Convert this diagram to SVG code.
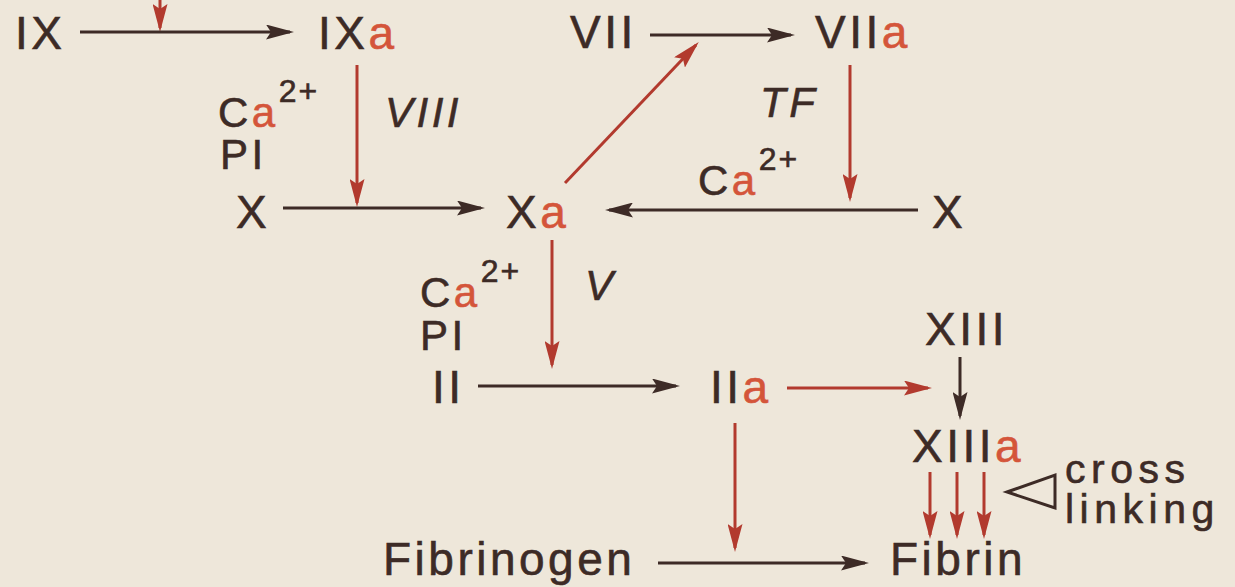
<svg xmlns="http://www.w3.org/2000/svg" width="1235" height="587" viewBox="0 0 1235 587">
<defs>
<style>
text{font-family:"Liberation Sans",Arial,sans-serif;fill:#3d2b26;stroke:#3d2b26;stroke-width:0.6;letter-spacing:3.5px}
.n{font-size:46px}
.l{font-size:42px}
.c{font-size:41px;letter-spacing:5.5px}
.i{font-style:italic}
.a{fill:#d4553a;stroke:#d4553a}
.s{font-size:32px;letter-spacing:2px}
.dk{stroke:#3d2b26;stroke-width:3;fill:none;marker-end:url(#hd)}
.rd{stroke:#b23a2e;stroke-width:3;fill:none;marker-end:url(#hr)}
</style>
<marker id="hd" viewBox="0 0 28 15" refX="24" refY="7.5" markerWidth="28" markerHeight="15" markerUnits="userSpaceOnUse" orient="auto">
<path d="M0,0 L28,7.5 L0,15 L5,7.5 Z" fill="#3d2b26"/>
</marker>
<marker id="hr" viewBox="0 0 28 15" refX="24" refY="7.5" markerWidth="28" markerHeight="15" markerUnits="userSpaceOnUse" orient="auto">
<path d="M0,0 L28,7.5 L0,15 L5,7.5 Z" fill="#b23a2e"/>
</marker>
</defs>
<rect width="1235" height="587" fill="#eee7da"/>
<g id="connectors">
<line class="rd" x1="160" y1="0" x2="160" y2="28"/>
<line class="dk" x1="80" y1="32" x2="290" y2="32"/>
<line class="rd" x1="357" y1="65" x2="357" y2="203"/>
<line class="dk" x1="283" y1="208" x2="481" y2="208"/>
<line class="dk" x1="650" y1="35" x2="791" y2="35"/>
<line class="rd" x1="565" y1="183" x2="696" y2="45"/>
<line class="rd" x1="850" y1="65" x2="850" y2="198"/>
<line class="dk" x1="918" y1="210" x2="609" y2="210"/>
<line class="rd" x1="552" y1="240" x2="552" y2="365"/>
<line class="dk" x1="478" y1="386" x2="676" y2="386"/>
<line class="rd" x1="787" y1="388" x2="928" y2="388"/>
<line class="dk" x1="960" y1="357" x2="960" y2="416"/>
<line class="rd" x1="735" y1="423" x2="735" y2="548"/>
<line class="dk" x1="658" y1="563" x2="865" y2="563"/>
<line class="rd" x1="930" y1="472" x2="930" y2="535"/>
<line class="rd" x1="957" y1="472" x2="957" y2="535"/>
<line class="rd" x1="984" y1="472" x2="984" y2="535"/>
<path d="M1007,492 L1055,475 L1055,508 Z" fill="none" stroke="#3d2b26" stroke-width="3" stroke-linejoin="miter"/>
</g>
<g id="n-IX"><text class="n" x="15" y="49">IX</text></g>
<g id="n-IXa"><text class="n" x="318" y="49">IX<tspan class="a">a</tspan></text></g>
<g id="n-VII"><text class="n" x="570" y="48">VII</text></g>
<g id="n-VIIa"><text class="n" x="815" y="48">VII<tspan class="a">a</tspan></text></g>
<g id="l-ca1"><text class="l" x="218" y="127">C<tspan class="a">a</tspan><tspan class="s" dy="-25">2+</tspan></text><text class="l" x="220" y="169">PI</text></g>
<g id="l-VIII"><text class="l i" x="385" y="127">VIII</text></g>
<g id="l-TF"><text class="l i" x="760" y="117">TF</text></g>
<g id="l-ca2"><text class="l" x="698" y="195">C<tspan class="a">a</tspan><tspan class="s" dy="-25">2+</tspan></text></g>
<g id="n-X1"><text class="n" x="236" y="228">X</text></g>
<g id="n-Xa"><text class="n" x="506" y="228">X<tspan class="a">a</tspan></text></g>
<g id="n-X2"><text class="n" x="932" y="228">X</text></g>
<g id="l-ca3"><text class="l" x="420" y="307">C<tspan class="a">a</tspan><tspan class="s" dy="-25">2+</tspan></text><text class="l" x="420" y="350">PI</text></g>
<g id="l-V"><text class="l i" x="585" y="300">V</text></g>
<g id="n-II"><text class="n" x="432" y="403">II</text></g>
<g id="n-IIa"><text class="n" x="710" y="403">II<tspan class="a">a</tspan></text></g>
<g id="n-XIII"><text class="n" x="925" y="345">XIII</text></g>
<g id="n-XIIIa"><text class="n" x="912" y="462">XIII<tspan class="a">a</tspan></text></g>
<g id="l-cross"><text class="c" x="1065" y="483">cross</text><text class="c" x="1065" y="523">linking</text></g>
<g id="n-Fibrinogen"><text class="n" x="383" y="575">Fibrinogen</text></g>
<g id="n-Fibrin"><text class="n" x="890" y="575">Fibrin</text></g>
</svg>
